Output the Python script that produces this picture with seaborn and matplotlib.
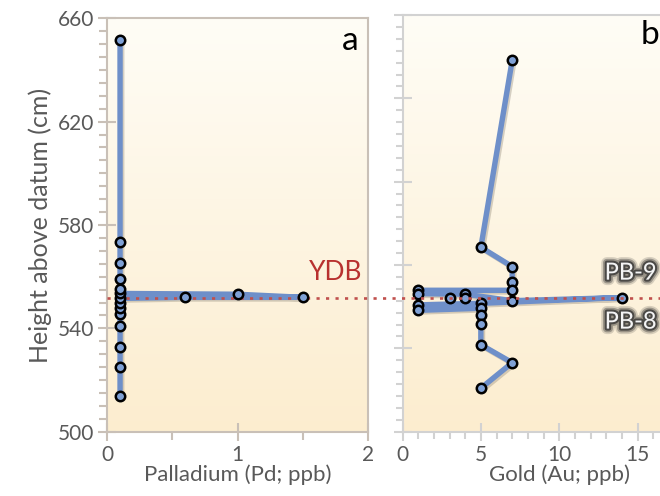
import numpy as np
import pandas as pd
import matplotlib
matplotlib.use("Agg")
import matplotlib.pyplot as plt
import matplotlib.patheffects as pe
from matplotlib.ticker import MultipleLocator, AutoMinorLocator
from matplotlib.colors import LinearSegmentedColormap
import seaborn as sns

# ---------------- data ----------------
# Panel a: Palladium (ppb) vs height (cm); line path order
pd_x = [0.1, 0.1, 0.1, 0.1, 0.1, 0.1, 0.1, 0.1, 0.6, 1.5, 1.0, 0.1, 0.1, 0.1, 0.1, 0.1, 0.1]
pd_y = [513.9, 525.0, 532.9, 540.9, 545.5, 547.7, 549.7, 551.6, 552.0, 552.0, 553.2,
        553.5, 555.1, 559.1, 565.1, 573.4, 651.5]

# Panel b: Gold (ppb) vs height (cm); line path order (top to bottom)
au_line_x = [7, 5, 7, 7, 7, 1, 1, 4, 7, 14, 5, 1, 1, 5, 5, 5, 5, 7, 5]
au_line_y = [642.6, 570.8, 563.4, 557.4, 554.3, 554.3, 553.0, 552.8, 550.3, 551.5,
             549.3, 548.7, 546.6, 547.4, 544.7, 541.5, 533.4, 526.5, 516.7]
# extra measured points not on the path
au_extra_x = [3, 4]
au_extra_y = [551.5, 551.5]

ydb_height = 551.8
pd_xticks = [0, 1, 2]
au_xticks = [0, 5, 10, 15]
yticks = [500, 540, 580, 620, 660]

# ---------------- style ----------------
sns.set_style("ticks")
plt.rcParams['font.family'] = ['Lato', 'DejaVu Sans']
TXT = '#595959'
LINE = '#6E8FC9'
MFILL = '#7FA1D6'
SPINE_A = '#C9C0B7'
SPINE_B = '#D2D2D2'

fig = plt.figure(figsize=(6.6, 4.96), dpi=100)
ax_a = fig.add_axes([107/660, 1-431.7/496, 261/660, (431.7-18.3)/496])
ax_b = fig.add_axes([402.5/660, 1-431.7/496, 313.4/660, (431.7-15)/496])

cmap = LinearSegmentedColormap.from_list('bg', ['#FCEDCF', '#FFFDF6'])
grad = np.linspace(0, 1, 256).reshape(-1, 1)
for ax in (ax_a, ax_b):
    ax.imshow(grad, extent=[0, 1, 0, 1], transform=ax.transAxes, aspect='auto',
              cmap=cmap, origin='lower', zorder=0)

shadow = [pe.SimpleLineShadow(offset=(1.2, -1.2), shadow_color='#8a8070', alpha=0.35),
          pe.Normal()]

df_a = pd.DataFrame({'x': pd_x, 'y': pd_y})
sns.lineplot(data=df_a, x='x', y='y', sort=False, estimator=None, ax=ax_a,
             color=LINE, lw=3.9, zorder=2, path_effects=shadow)
sns.scatterplot(data=df_a, x='x', y='y', ax=ax_a, color=MFILL, edgecolor='black',
                linewidth=1.8, s=46, zorder=4)

df_b = pd.DataFrame({'x': au_line_x, 'y': au_line_y})
df_b_pts = pd.DataFrame({'x': au_line_x + au_extra_x, 'y': au_line_y + au_extra_y})
sns.lineplot(data=df_b, x='x', y='y', sort=False, estimator=None, ax=ax_b,
             color=LINE, lw=3.9, zorder=2, path_effects=shadow)
sns.scatterplot(data=df_b_pts, x='x', y='y', ax=ax_b, color=MFILL, edgecolor='black',
                linewidth=1.8, s=46, zorder=4)

# limits
ax_a.set_xlim(0, 2)
ax_a.set_ylim(500, 660)
ax_b.set_xlim(0, 20)
ax_b.set_ylim(500, 660)

# YDB dotted line spanning both panels
ax_a.set_zorder(3)
ax_a.axhline(ydb_height, xmin=0, xmax=(660-107)/261, clip_on=False, color='#C0504D',
             ls=(0, (1.2, 2.4)), lw=1.9, zorder=3)

# ticks panel a
ax_a.set_xticks(pd_xticks)
ax_a.set_yticks(yticks)
ax_a.xaxis.set_minor_locator(MultipleLocator(0.5))
ax_a.yaxis.set_minor_locator(MultipleLocator(5))
ax_a.tick_params(axis='both', which='major', direction='inout', length=13, width=1.5,
                 color=SPINE_A, labelsize=15, labelcolor=TXT, pad=3)
ax_a.tick_params(axis='both', which='minor', direction='out', length=5.5, width=1.5,
                 color=SPINE_A)
for s in ax_a.spines.values():
    s.set_color(SPINE_A)
    s.set_linewidth(1.5)

# ticks panel b
ax_b.set_xticks(au_xticks)
ax_b.set_yticks(np.arange(500, 661, 32))
ax_b.yaxis.set_minor_locator(AutoMinorLocator(7))
ax_b.xaxis.set_minor_locator(MultipleLocator(1))
ax_b.tick_params(axis='both', which='major', direction='inout', length=13, width=1.5,
                 color=SPINE_B, labelsize=15, labelcolor=TXT, pad=3)
ax_b.tick_params(axis='y', which='major', labelleft=False)
ax_b.tick_params(axis='both', which='minor', direction='out', length=5, width=1.5,
                 color=SPINE_B)
for s in ax_b.spines.values():
    s.set_color(SPINE_B)
    s.set_linewidth(1.5)

ax_a.set_xlabel('Palladium (Pd; ppb)', fontsize=16, color=TXT, labelpad=0)
ax_a.set_ylabel('Height above datum (cm)', fontsize=18, color=TXT, labelpad=4)
ax_b.set_xlabel('Gold (Au; ppb)', fontsize=16, color=TXT, labelpad=0)
ax_b.set_ylabel('')

ax_a.text(0.93, 0.945, 'a', transform=ax_a.transAxes, fontsize=24, color='black',
          ha='center', va='center')
ax_b.text(0.79, 0.952, 'b', transform=ax_b.transAxes, fontsize=24, color='black',
          ha='center', va='center')
ax_a.text(1.75, 561.6, 'YDB', fontsize=19, color='#B8312F', ha='center', va='center')

glow = [pe.withStroke(linewidth=8, foreground='#2a2a2a', alpha=0.18),
        pe.withStroke(linewidth=5.5, foreground='#2a2a2a', alpha=0.35),
        pe.withStroke(linewidth=3, foreground='#2a2a2a', alpha=0.7)]
ax_b.text(12.9, 560.9, 'PB-9', fontsize=17, color='#F4F4F4', ha='left', va='center',
          path_effects=glow, zorder=6)
ax_b.text(12.9, 542.1, 'PB-8', fontsize=17, color='#F4F4F4', ha='left', va='center',
          path_effects=glow, zorder=6)

fig.savefig('out.png', dpi=100)
